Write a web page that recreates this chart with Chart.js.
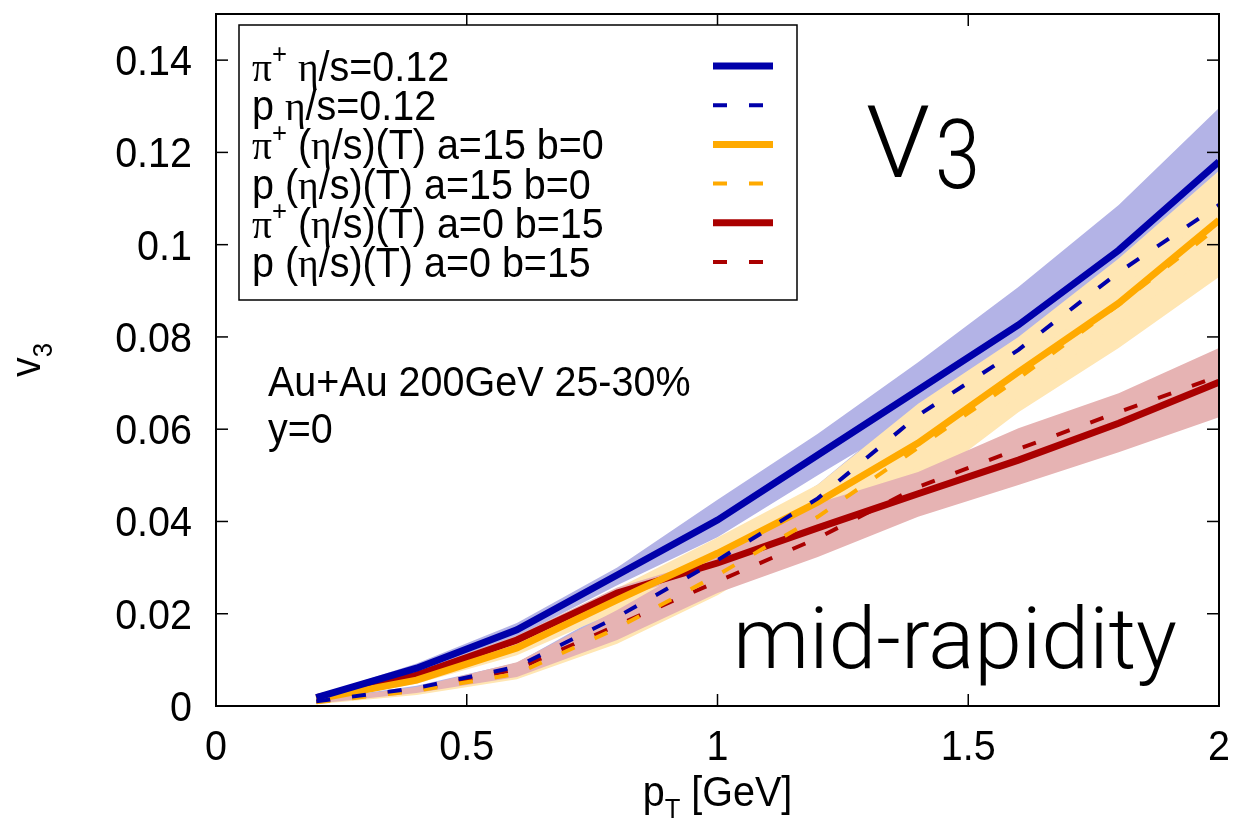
<!DOCTYPE html>
<html>
<head>
<meta charset="utf-8">
<script src="https://cdn.jsdelivr.net/npm/chart.js@4.4.1/dist/chart.umd.min.js"></script>
<style>
  html, body { margin: 0; padding: 0; background: #fff; }
</style>
</head>
<body>
<canvas id="chart" width="1236" height="823"></canvas>
<script>
"use strict";

// transverse momentum grid (GeV)
var PT = [0.2, 0.4, 0.6, 0.8, 1.0, 1.2, 1.4, 1.6, 1.8, 2.0];

// eta/s = 0.12
var PION_CONST     = [0.0018, 0.0082, 0.0165, 0.0284, 0.0403, 0.0544, 0.0685, 0.0826, 0.0988, 0.1180];
var PION_CONST_LO  = [0.0012, 0.0072, 0.0150, 0.0262, 0.0366, 0.0500, 0.0630, 0.0760, 0.0910, 0.1080];
var PION_CONST_HI  = [0.0022, 0.0092, 0.0180, 0.0300, 0.0447, 0.0590, 0.0745, 0.0908, 0.1086, 0.1296];
var PROTON_CONST    = [0.0010, 0.0039, 0.0085, 0.0193, 0.0316, 0.0450, 0.0630, 0.0772, 0.0940, 0.1086];
var PROTON_CONST_LO = [0.0005, 0.0033, 0.0075, 0.0175, 0.0290, 0.0420, 0.0600, 0.0740, 0.0910, 0.1050];
var PROTON_CONST_HI = [0.0013, 0.0044, 0.0094, 0.0215, 0.0340, 0.0480, 0.0660, 0.0800, 0.0970, 0.1120];

// (eta/s)(T) a=15 b=0
var PION_A15      = [0.0015, 0.0056, 0.0126, 0.0230, 0.0331, 0.0442, 0.0570, 0.0724, 0.0873, 0.1053];
var PION_A15_LO   = [0.0010, 0.0048, 0.0110, 0.0205, 0.0290, 0.0375, 0.0472, 0.0637, 0.0776, 0.0930];
var PION_A15_HI   = [0.0019, 0.0065, 0.0143, 0.0255, 0.0365, 0.0480, 0.0655, 0.0800, 0.0970, 0.1160];
var PROTON_A15    = [0.0008, 0.0033, 0.0070, 0.0169, 0.0284, 0.0410, 0.0560, 0.0710, 0.0870, 0.1040];
var PROTON_A15_LO = [0.0004, 0.0024, 0.0058, 0.0135, 0.0240, 0.0370, 0.0520, 0.0670, 0.0830, 0.0990];
var PROTON_A15_HI = [0.0011, 0.0040, 0.0085, 0.0190, 0.0310, 0.0440, 0.0590, 0.0740, 0.0900, 0.1080];

// (eta/s)(T) a=0 b=15
var PION_B15      = [0.0018, 0.0067, 0.0143, 0.0245, 0.0310, 0.0386, 0.0460, 0.0533, 0.0613, 0.0702];
var PION_B15_LO   = [0.0013, 0.0059, 0.0133, 0.0233, 0.0298, 0.0370, 0.0440, 0.0510, 0.0590, 0.0680];
var PION_B15_HI   = [0.0023, 0.0075, 0.0153, 0.0257, 0.0322, 0.0400, 0.0480, 0.0555, 0.0635, 0.0725];
var PROTON_B15    = [0.0010, 0.0035, 0.0080, 0.0175, 0.0270, 0.0364, 0.0475, 0.0557, 0.0637, 0.0715];
var PROTON_B15_LO = [0.0005, 0.0028, 0.0063, 0.0143, 0.0245, 0.0323, 0.0410, 0.0479, 0.0550, 0.0626];
var PROTON_B15_HI = [0.0013, 0.0041, 0.0095, 0.0208, 0.0332, 0.0440, 0.0507, 0.0602, 0.0678, 0.0776];

var LEGEND_LABELS = [
    'π^+ η/s=0.12',
    'p η/s=0.12',
    'π^+ (η/s)(T) a=15 b=0',
    'p (η/s)(T) a=15 b=0',
    'π^+ (η/s)(T) a=0 b=15',
    'p (η/s)(T) a=0 b=15'
];

var X_TICKS = [0, 0.5, 1, 1.5, 2];
var X_TICK_LABELS = ['0', '0.5', '1', '1.5', '2'];
var Y_TICKS = [0, 0.02, 0.04, 0.06, 0.08, 0.1, 0.12, 0.14];
var Y_TICK_LABELS = ['0', '0.02', '0.04', '0.06', '0.08', '0.1', '0.12', '0.14'];

var BLUE = '#0000aa';
var ORANGE = '#ffaa00';
var RED = '#aa0000';
var BLUE_BAND = '#b3b3e6';
var ORANGE_BAND = '#ffe6b3';
var RED_BAND = '#e6b3b3';

var SANS = '"Liberation Sans", Arial, sans-serif';
var SERIF = '"Liberation Serif", "Times New Roman", serif';
var LIGHT = 'Roboto, Lato, sans-serif';
var TEXT_SIZE = 42;
var TEXT_HSCALE = 0.94;

function points(ys) {
    return PT.map(function(x, i) {
        return { x: x, y: ys[i] };
    });
}

function lineSet(label, ys, color, dashed) {
    return {
        label: label,
        data: points(ys),
        borderColor: color,
        borderWidth: dashed ? 4 : 7,
        borderDash: dashed ? [14, 22] : [],
        pointRadius: 0,
        tension: 0,
        fill: false,
        order: 0
    };
}

function bandSets(lo, hi, color, order) {
    return [{
        data: points(lo),
        borderWidth: 0,
        pointRadius: 0,
        fill: false,
        order: order
    }, {
        data: points(hi),
        borderWidth: 0,
        pointRadius: 0,
        backgroundColor: color,
        fill: '-1',
        order: order
    }];
}

function parseRich(str) {
    var segs = [];
    for (var i = 0; i < str.length; i++) {
        var c = str.charAt(i);
        if ((c === '^' || c === '_') && i + 1 < str.length) {
            segs.push({ text: str.charAt(i + 1), size: 0.65, shift: c === '^' ? -0.42 : 0.28, serif: false });
            i++;
        } else {
            segs.push({ text: c, size: 1, shift: 0, serif: c === 'π' || c === 'η' });
        }
    }
    return segs;
}

function segFont(s) {
    return (TEXT_SIZE * s.size) + 'px ' + (s.serif ? SERIF : SANS);
}

function drawRich(ctx, str, x, y, align) {
    var segs = parseRich(str);
    var widths = segs.map(function(s) {
        ctx.font = segFont(s);
        return ctx.measureText(s.text).width;
    });
    var total = widths.reduce(function(a, b) { return a + b; }, 0);
    var cx = align === 'center' ? -total / 2 : (align === 'right' ? -total : 0);
    ctx.save();
    ctx.translate(x, y);
    ctx.scale(TEXT_HSCALE, 1);
    ctx.textAlign = 'left';
    ctx.textBaseline = 'alphabetic';
    ctx.fillStyle = '#000';
    segs.forEach(function(s, i) {
        ctx.font = segFont(s);
        ctx.fillText(s.text, cx, s.shift * TEXT_SIZE);
        cx += widths[i];
    });
    ctx.restore();
}

function fitText(ctx, text, x, y, width, font) {
    ctx.save();
    ctx.font = font;
    ctx.textAlign = 'left';
    ctx.textBaseline = 'alphabetic';
    ctx.fillStyle = '#000';
    var w = ctx.measureText(text).width;
    ctx.translate(x, y);
    ctx.scale(width / w, 1);
    ctx.fillText(text, 0, 0);
    ctx.restore();
}

function strokeLine(ctx, x1, y1, x2, y2) {
    ctx.beginPath();
    ctx.moveTo(x1, y1);
    ctx.lineTo(x2, y2);
    ctx.stroke();
}

var decorations = {
    id: 'decorations',
    afterDraw: function(chart) {
        var ctx = chart.ctx;
        var a = chart.chartArea;
        var xs = chart.scales.x;
        var ys = chart.scales.y;
        ctx.save();

        // inward mirror ticks
        ctx.strokeStyle = '#000';
        ctx.lineWidth = 1.5;
        X_TICKS.forEach(function(v) {
            var px = xs.getPixelForValue(v);
            strokeLine(ctx, px, a.bottom, px, a.bottom - 12);
            strokeLine(ctx, px, a.top, px, a.top + 12);
        });
        Y_TICKS.forEach(function(v) {
            var py = ys.getPixelForValue(v);
            strokeLine(ctx, a.left, py, a.left + 12, py);
            strokeLine(ctx, a.right, py, a.right - 12, py);
        });

        // frame
        ctx.lineWidth = 2;
        ctx.strokeRect(a.left, a.top, a.right - a.left, a.bottom - a.top);

        // tick labels
        X_TICKS.forEach(function(v, i) {
            drawRich(ctx, X_TICK_LABELS[i], xs.getPixelForValue(v), 760, 'center');
        });
        Y_TICKS.forEach(function(v, i) {
            drawRich(ctx, Y_TICK_LABELS[i], 192, ys.getPixelForValue(v) + 15, 'right');
        });

        // axis titles
        drawRich(ctx, 'p_T [GeV]', (a.left + a.right) / 2, 806, 'center');
        ctx.save();
        ctx.translate(40, 360);
        ctx.rotate(-Math.PI / 2);
        drawRich(ctx, 'v_3', 0, 0, 'center');
        ctx.restore();

        // legend box
        var box = { left: 239, top: 25, right: 797, bottom: 300 };
        ctx.fillStyle = '#fff';
        ctx.fillRect(box.left, box.top, box.right - box.left, box.bottom - box.top);
        ctx.lineWidth = 1.5;
        ctx.strokeStyle = '#000';
        ctx.strokeRect(box.left, box.top, box.right - box.left, box.bottom - box.top);

        var lines = chart.data.datasets.filter(function(d) { return d.label; });
        lines.forEach(function(d, i) {
            var rowY = 66 + i * 39.2;
            drawRich(ctx, LEGEND_LABELS[i], 252, rowY + 15, 'left');
            ctx.save();
            ctx.strokeStyle = d.borderColor;
            ctx.lineWidth = d.borderWidth;
            ctx.setLineDash(d.borderDash);
            strokeLine(ctx, 713, rowY, 773, rowY);
            ctx.restore();
        });

        // annotations
        drawRich(ctx, 'Au+Au 200GeV 25-30%', 268, 396, 'left');
        drawRich(ctx, 'y=0', 268, 443, 'left');
        fitText(ctx, 'V', 866, 177, 64, '300 100px ' + LIGHT);
        fitText(ctx, '3', 935, 188, 45, '300 96px ' + LIGHT);
        fitText(ctx, 'mid-rapidity', 733, 668, 444, '300 86px ' + LIGHT);

        ctx.restore();
    }
};

var datasets = [
    lineSet('pi const', PION_CONST, BLUE, false),
    lineSet('p const', PROTON_CONST, BLUE, true),
    lineSet('pi a15', PION_A15, ORANGE, false),
    lineSet('p a15', PROTON_A15, ORANGE, true),
    lineSet('pi b15', PION_B15, RED, false),
    lineSet('p b15', PROTON_B15, RED, true)
].concat(
    bandSets(PROTON_B15_LO, PROTON_B15_HI, RED_BAND, 1),
    bandSets(PION_B15_LO, PION_B15_HI, RED_BAND, 1),
    bandSets(PROTON_A15_LO, PROTON_A15_HI, ORANGE_BAND, 2),
    bandSets(PION_A15_LO, PION_A15_HI, ORANGE_BAND, 2),
    bandSets(PROTON_CONST_LO, PROTON_CONST_HI, BLUE_BAND, 3),
    bandSets(PION_CONST_LO, PION_CONST_HI, BLUE_BAND, 3)
);

var chart = new Chart(document.getElementById('chart'), {
    type: 'line',
    data: { datasets: datasets },
    options: {
        responsive: false,
        animation: false,
        layout: { padding: { top: 14, right: 17, left: 0, bottom: 0 } },
        plugins: {
            legend: { display: false },
            tooltip: { enabled: false }
        },
        scales: {
            x: {
                type: 'linear',
                min: 0,
                max: 2,
                grid: { display: false },
                border: { display: false },
                ticks: { display: false },
                afterBuildTicks: function(scale) {
                    scale.ticks = X_TICKS.map(function(v) { return { value: v }; });
                },
                afterFit: function(scale) { scale.height = 117; }
            },
            y: {
                type: 'linear',
                min: 0,
                max: 0.15,
                grid: { display: false },
                border: { display: false },
                ticks: { display: false },
                afterBuildTicks: function(scale) {
                    scale.ticks = Y_TICKS.map(function(v) { return { value: v }; });
                },
                afterFit: function(scale) { scale.width = 216; }
            }
        }
    },
    plugins: [decorations]
});
</script>
</body>
</html>
